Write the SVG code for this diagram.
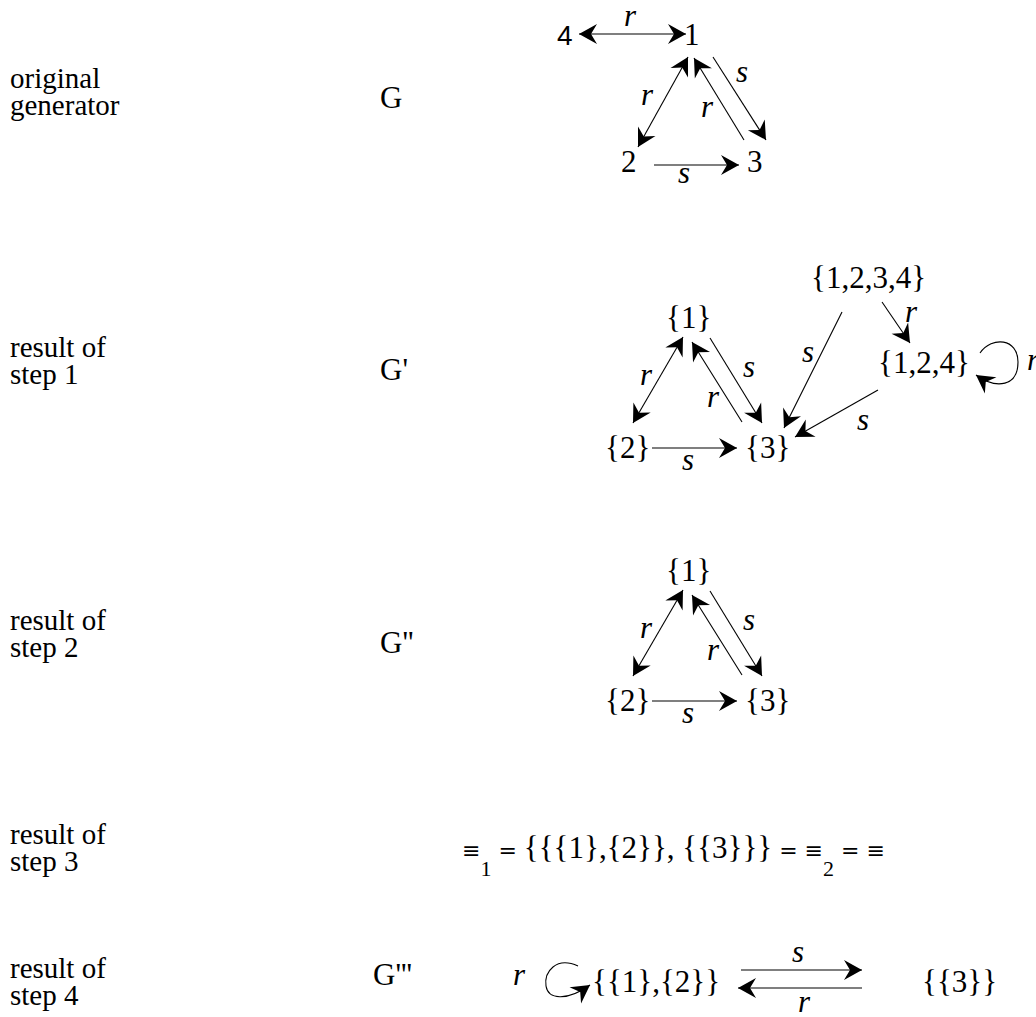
<svg xmlns="http://www.w3.org/2000/svg" width="1036" height="1017" viewBox="0 0 1036 1017">
<style>
.lab,.g,.n,.e,.sub,.i{font-family:"Liberation Serif",Tinos,"Times New Roman",Times,"Nimbus Roman","DejaVu Serif",serif;fill:#000}
.lab{font-size:29px}
.g,.n,.e{font-size:31px}
.sub{font-size:22px}
.i{font-style:italic;font-size:31px}
.ns{font-family:"Liberation Sans",Arimo,Arial,Helvetica,sans-serif;font-size:28px;fill:#000}
.op{font-family:"DejaVu Sans","Liberation Sans",sans-serif;font-size:22px}
.c line,.c path{stroke:#000;stroke-width:1.1;fill:none}
.c .a{marker-end:url(#ah)}
.c .b{marker-start:url(#ah);marker-end:url(#ah)}
</style>
<defs>
<marker id="ah" viewBox="-20 -12 22 24" refX="0" refY="0" markerWidth="22" markerHeight="24" markerUnits="userSpaceOnUse" orient="auto-start-reverse">
<path d="M0,0 L-18,-10 L-12,0 L-18,10 Z" fill="#000"/>
</marker>
</defs>
<rect width="1036" height="1017" fill="#fff"/>

<g id="labels">
<text class="lab" x="10" y="88">original</text>
<text class="lab" x="10" y="115">generator</text>
<text class="lab" x="10" y="357">result of</text>
<text class="lab" x="10" y="384">step 1</text>
<text class="lab" x="10" y="630">result of</text>
<text class="lab" x="10" y="657">step 2</text>
<text class="lab" x="10" y="844">result of</text>
<text class="lab" x="10" y="871">step 3</text>
<text class="lab" x="10" y="978">result of</text>
<text class="lab" x="10" y="1005">step 4</text>
<text class="g" x="380" y="108">G</text>
<text class="g" x="380" y="380">G'</text>
<text class="g" x="380" y="653">G''</text>
<text class="g" x="373" y="985">G'''</text>
</g>

<!-- G -->
<g id="G-n4"><text class="ns" x="557" y="45">4</text></g>
<g id="G-n1"><text class="n" x="684" y="45">1</text></g>
<g id="G-n2"><text class="n" x="621" y="172">2</text></g>
<g id="G-n3"><text class="n" x="747" y="172">3</text></g>

<!-- G' -->
<g id="G1-n1"><text class="n" x="666" y="328">{1}</text></g>
<g id="G1-n2"><text class="n" x="605" y="458">{2}</text></g>
<g id="G1-n3"><text class="n" x="745" y="458">{3}</text></g>
<g id="G1-n1234"><text class="n" x="811" y="288">{1,2,3,4}</text></g>
<g id="G1-n124"><text class="n" x="878" y="373">{1,2,4}</text></g>

<!-- G'' -->
<g id="G2-n1"><text class="n" x="666" y="581">{1}</text></g>
<g id="G2-n2"><text class="n" x="605" y="711">{2}</text></g>
<g id="G2-n3"><text class="n" x="745" y="711">{3}</text></g>

<!-- step 3 -->
<g id="eq"><text class="e" x="462" y="858"><tspan class="op">≡</tspan><tspan class="sub" dy="18">1</tspan><tspan class="op" dy="-18"> = </tspan><tspan>{{{1},{2}}, {{3}}}</tspan><tspan class="op"> = ≡</tspan><tspan class="sub" dy="18">2</tspan><tspan class="op" dy="-18"> = ≡</tspan></text></g>

<!-- G''' -->
<g id="G3-n12"><text class="n" x="592" y="992">{{1},{2}}</text></g>
<g id="G3-n3"><text class="n" x="922" y="992">{{3}}</text></g>

<g id="connectors" class="c">
<!-- G -->
<line class="b" x1="579" y1="34" x2="686" y2="34"/>
<line class="b" x1="638" y1="147" x2="688" y2="57"/>
<line class="a" x1="713" y1="57" x2="766" y2="140"/>
<line class="a" x1="744" y1="140" x2="694" y2="58"/>
<line class="a" x1="654" y1="165" x2="739" y2="165"/>
<!-- G' -->
<line class="b" x1="633" y1="423" x2="683" y2="337"/>
<line class="a" x1="710" y1="338" x2="762" y2="423"/>
<line class="a" x1="742" y1="422" x2="692" y2="342"/>
<line class="a" x1="652" y1="448" x2="737" y2="448"/>
<line class="a" x1="842" y1="312" x2="784" y2="428"/>
<line class="a" x1="882" y1="302" x2="910" y2="343"/>
<line class="a" x1="878" y1="390" x2="795" y2="437"/>
<path class="a" d="M980,353 C992,336 1018,338 1018,362 C1018,386 997,390 976,375"/>
<!-- G'' -->
<line class="b" x1="633" y1="676" x2="683" y2="590"/>
<line class="a" x1="710" y1="591" x2="762" y2="676"/>
<line class="a" x1="742" y1="675" x2="692" y2="595"/>
<line class="a" x1="652" y1="701" x2="737" y2="701"/>
<!-- G''' -->
<path class="a" d="M578,966 C556,956 544,972 546,986 C548,999 566,1002 590,985"/>
<line class="a" x1="741" y1="970" x2="862" y2="970"/>
<line class="a" x1="862" y1="988" x2="738" y2="988"/>
</g>

<g id="edge-labels">
<text class="i" x="624" y="26">r</text>
<text class="i" x="641" y="105">r</text>
<text class="i" x="736" y="82">s</text>
<text class="i" x="701" y="117">r</text>
<text class="i" x="678" y="183">s</text>

<text class="i" x="640" y="385">r</text>
<text class="i" x="743" y="377">s</text>
<text class="i" x="707" y="407">r</text>
<text class="i" x="682" y="470">s</text>
<text class="i" x="802" y="362">s</text>
<text class="i" x="905" y="322">r</text>
<text class="i" x="857" y="430">s</text>
<text class="i" x="1027" y="370">r</text>

<text class="i" x="640" y="638">r</text>
<text class="i" x="743" y="630">s</text>
<text class="i" x="707" y="660">r</text>
<text class="i" x="682" y="723">s</text>

<text class="i" x="513" y="985">r</text>
<text class="i" x="792" y="962">s</text>
<text class="i" x="798" y="1012">r</text>
</g>
</svg>
